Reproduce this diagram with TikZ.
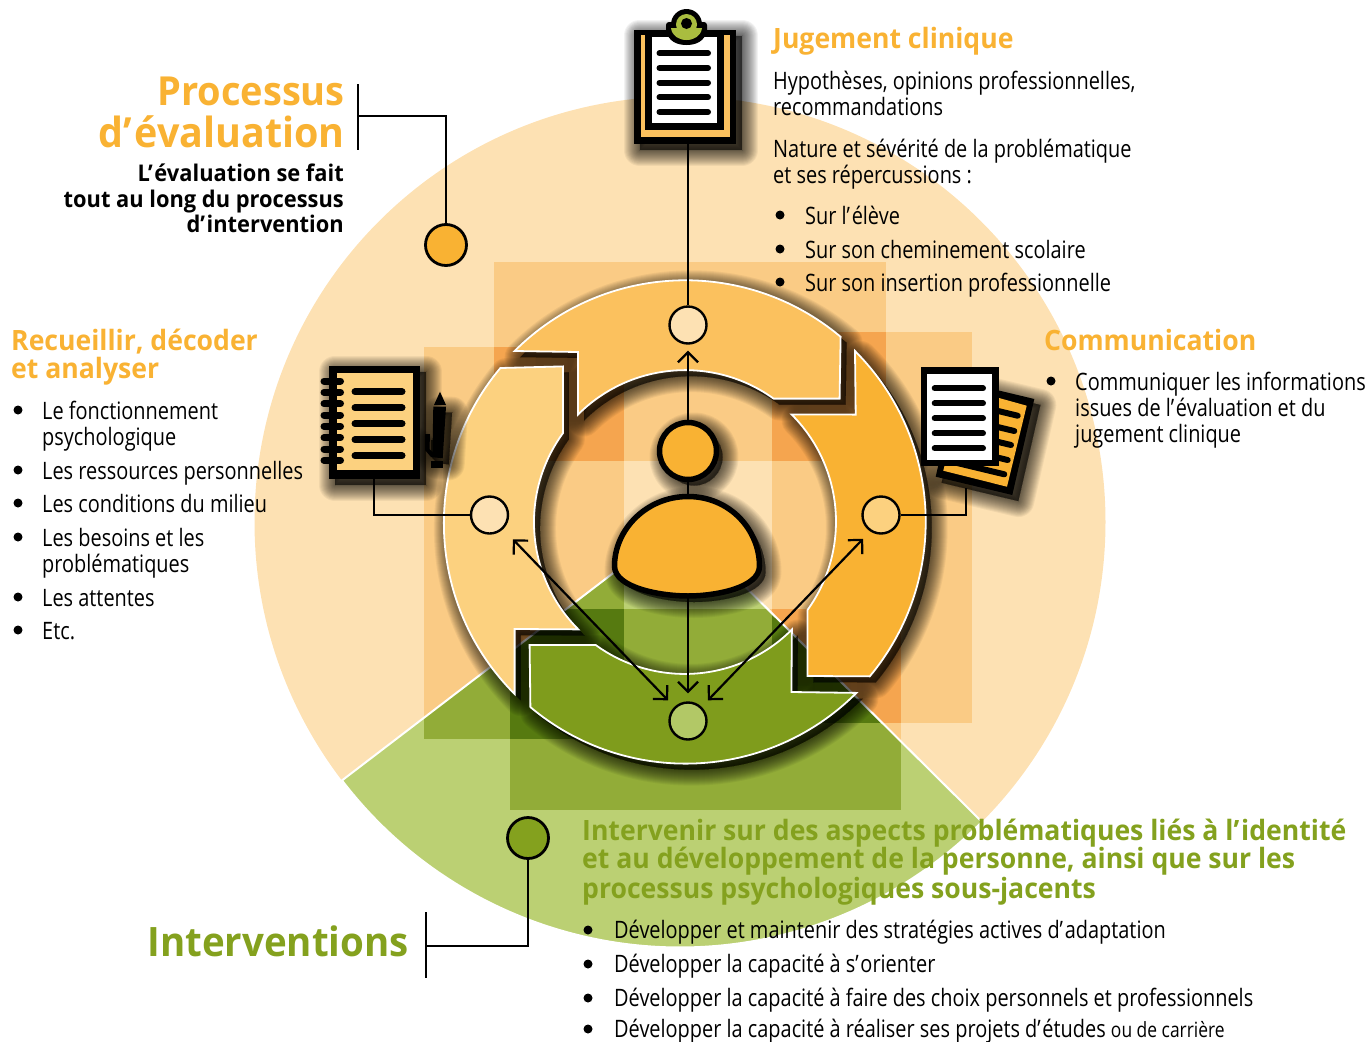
\documentclass[tikz,border=0pt]{standalone}
\usepackage{fontspec}
\usetikzlibrary{arrows.meta}
\newfontfamily\ftexte{Open Sans}[FakeStretch=0.83]
\newfontfamily\fgras{Open Sans}[FakeStretch=0.95]

\definecolor{fond}{HTML}{FDE1B3}
\definecolor{vertfond}{HTML}{BBD073}
\definecolor{carreclair}{HTML}{FACB85}
\definecolor{carrefonce}{HTML}{F5A54F}
\definecolor{carrevert}{HTML}{92AC38}
\definecolor{carrevertfonce}{HTML}{567A10}
\definecolor{segclair}{HTML}{FCD17F}
\definecolor{segmoyen}{HTML}{FBC15E}
\definecolor{orange}{HTML}{F9B233}
\definecolor{vert}{HTML}{7F9C1C}
\definecolor{titrevert}{HTML}{84A11E}
\definecolor{pince}{HTML}{A9BD3F}

\tikzset{
  barbe/.tip={Straight Barb[length=10pt,width=20pt,line width=2.2pt]},
  trait/.style={line width=2.4pt,black},
  fleche/.style={line width=2.2pt,black,barbe-barbe},
  petit/.style={circle,draw=black,line width=2.4pt,minimum size=37pt,inner sep=0pt},
  rond/.style={circle,draw=black,line width=2.8pt,minimum size=41pt,inner sep=0pt},
  ligne/.style={line width=6pt,line cap=round,black},
  puce/.style={circle,fill=black,minimum size=9pt,inner sep=0pt},
  texte/.style={anchor=base west,inner sep=0pt,yshift=-1pt,font=\ftexte\fontsize{24}{26}\selectfont},
  titre/.style={anchor=base west,inner sep=0pt,yshift=-1pt,font=\fgras\bfseries\fontsize{28}{30}\selectfont,text=orange},
  grand/.style={anchor=base east,inner sep=0pt,font=\fgras\bfseries\fontsize{40.5}{42}\selectfont},
  gras/.style={anchor=base east,inner sep=0pt,yshift=-1pt,font=\fgras\bfseries\fontsize{23}{25}\selectfont},
}

\newcommand{\apos}{’\kern.07em}

% ombre floue : traits empiles
\newcommand{\ombrer}[1]{\foreach \w in {32,30,...,0} {\draw[black,fill=black,line join=round,line width=\w pt,opacity=.05,xshift=6pt,yshift=-6pt] #1;}}

% les quatre segments de l'anneau
\newcommand{\segtop}{(514.6,351) arc[start angle=-135,end angle=-50,radius=241.5] -- (839.6,398.6) -- (773.6,398.6) arc[start angle=-54.3,end angle=-135,radius=151.5] -- (578,352) -- cycle}
\newcommand{\segright}{(855,351) arc[start angle=-45,end angle=39.8,radius=241.5] -- (807.5,676) -- (807.5,610) arc[start angle=35.7,end angle=-45,radius=151.5] -- (855.7,414.6) -- cycle}
\newcommand{\segbottom}{(856.4,692.9) arc[start angle=45,end angle=130,radius=241.5] -- (529.6,645) -- (595.7,645) arc[start angle=126,end angle=45,radius=151.5] -- (791.4,692) -- cycle}
\newcommand{\segleft}{(514.6,694) arc[start angle=-225,end angle=-140,radius=241.5] -- (562.9,366.4) -- (562.9,433.2) arc[start angle=-144,end angle=-225,radius=151.5] -- (514.6,629) -- cycle}
\newcommand{\secteur}{(680,522) -- ++(142.6:425.5) arc[start angle=142.6,end angle=44.8,radius=425.5] -- cycle}
\newcommand{\buste}{(688,496.5) .. controls (730,496.5) and (759.5,530) .. (759.5,566) .. controls (759.5,588) and (715,596) .. (688,596) .. controls (661,596) and (614.5,588) .. (614.5,566) .. controls (614.5,530) and (646,496.5) .. (688,496.5) -- cycle}

\begin{document}
\begin{tikzpicture}[x=1pt,y=-1pt]
\useasboundingbox (0,0) rectangle (1369,1042);

% fond
\fill[fond] (680,522) circle (425.5);
\fill[vertfond] \secteur;

% carres
\fill[carreclair] (494,262) rectangle (886,461);
\fill[carreclair] (424,347) rectangle (624,739);
\fill[carreclair] (772,332) rectangle (972,723);
\fill[carreclair] (510,609) rectangle (901,810);
\fill[carrefonce] (494,347) rectangle (624,461);
\fill[carrefonce] (772,332) rectangle (886,461);
\fill[carrefonce] (510,609) rectangle (624,739);
\fill[carrefonce] (772,609) rectangle (901,723);
\begin{scope}
\clip \secteur;
\fill[carrevert] (424,347) rectangle (624,739);
\fill[carrevert] (772,332) rectangle (972,723);
\fill[carrevert] (510,609) rectangle (901,810);
\fill[carrevertfonce] (510,609) rectangle (624,739);
\fill[carrevertfonce] (772,609) rectangle (901,723);
\end{scope}
\draw[white,line width=2pt] \secteur;

% ombres puis segments
\ombrer{\segleft}
\ombrer{\segtop}
\ombrer{\segright}
\ombrer{\segbottom}
\draw[white,line width=1.8pt,fill=segclair] \segleft;
\draw[white,line width=1.8pt,fill=segmoyen] \segtop;
\draw[white,line width=1.8pt,fill=orange] \segright;
\draw[white,line width=1.8pt,fill=vert] \segbottom;

% noeuds
\node[petit,fill=fond] (haut) at (688,325) {};
\node[petit,fill=fond] (gauche) at (489.5,515) {};
\node[petit,fill=segclair] (droite) at (881,515) {};
\node[petit,fill=vertfond!85!vert] (bas) at (688,721) {};
\node[rond,fill=orange] (pointeval) at (446,245) {};
\node[rond,fill=titrevert] (pointinter) at (528,838) {};

\coordinate (corpshaut) at (688,494);
\coordinate (corpsbas) at (688,597);
\coordinate (tablette) at (688,144);
\coordinate (carnet) at (374,478);
\coordinate (feuilles) at (966,488);
\coordinate (barreA) at (358,84);
\coordinate (barreB) at (358,150);
\coordinate (coudeA) at (358,116);
\coordinate (barreC) at (426,912);
\coordinate (barreD) at (426,978);
\coordinate (coudeB) at (426,946);

% tete et corps
\ombrer{(688,451) circle (28.5)}
\ombrer{\buste}
\node[circle,draw=black,line width=5.5pt,fill=orange,minimum size=57pt,inner sep=0pt] (tete) at (688,451) {};
\draw[trait] (tete) -- (corpshaut);
\draw[line width=5.5pt,black,fill=orange] \buste;

% connecteurs
\draw[trait,-barbe,shorten >=6pt] (tete) -- (haut);
\draw[trait,-barbe,shorten >=8pt] (corpsbas) -- (bas);
\draw[fleche,shorten <=14pt,shorten >=9pt] (gauche) -- (bas);
\draw[fleche,shorten <=33pt,shorten >=9pt] ([xshift=5pt]droite.center) -- (bas);
\draw[trait] (tablette) -- (haut);
\draw[trait] (carnet) |- (gauche);
\draw[trait] (feuilles) |- (droite);
\draw[trait] (barreA) -- (barreB);
\draw[trait] (coudeA) -| (pointeval);
\draw[trait] (barreC) -- (barreD);
\draw[trait] (coudeB) -| (pointinter);

% tablette a pince
\ombrer{(633.5,29.5) rectangle (736,144)}
\fill[black] (633.5,29.5) rectangle (736,144);
\fill[segmoyen] (640.7,35) rectangle (730,136.7);
\fill[black] (645,32) rectangle (724,130);
\fill[white] (651.7,37) rectangle (717.3,123.3);
\foreach \ypos in {53.3,68,82.7,97.3,112} {
  \draw[ligne] (659.5,\ypos) -- (708,\ypos);
}
\fill[black,rounded corners=3pt] (666,22) rectangle (707,34);
\fill[black] (666,30) .. controls (668,42) and (678,45) .. (686.5,45) .. controls (695,45) and (705,42) .. (707,30) -- cycle;
\fill[black] (686.5,24.5) circle (15.5);
\fill[pince] (686.5,24.5) circle (10.5);
\fill[pince] (671,28) -- (702,28) .. controls (701,36) and (694,40) .. (686.5,40) .. controls (679,40) and (672,36) .. (671,28) -- cycle;
\fill[black] (686.5,23.5) circle (5.5);

% carnet
\ombrer{(329.3,365.7) rectangle (420,479)}
\fill[black] (329.3,365.7) rectangle (420,479);
\fill[segclair] (337,373.3) rectangle (412.7,470.3);
\foreach \ypos in {391.7,407.7,423.7,439.7,455.7} {
  \draw[ligne,line width=7pt] (355,\ypos) -- (402,\ypos);
}
\foreach \ypos in {381,392.3,403.7,415,426.3,437.7,449,460.3} {
  \draw[ligne,line width=7pt] (324,\ypos) -- (340.5,\ypos);
}
\ombrer{(433.3,406.7) -- (446,406.7) -- (442.7,458.3) -- (431,457) -- (425,450) -- (425,434) -- (430,434) -- cycle}
\fill[black] (433.3,406.7) -- (446,406.7) -- (442.7,458.3) -- (431,457) -- (425,450) -- (425,434) -- (430,434) -- (429.5,449) -- (432.5,452) -- cycle;
\fill[black] (434,405) -- (446,405) -- (440,391.7) -- cycle;
\fill[black] (430.7,461) rectangle (442.7,467.7);

% feuilles
\ombrer{(957.7,380.7) -- (1034.3,399) -- (1012.3,495) -- (935.7,476.7) -- cycle}
\fill[black] (957.7,380.7) -- (1034.3,399) -- (1012.3,495) -- (935.7,476.7) -- cycle;
\fill[orange] (963,388) -- (1026.7,405.7) -- (1007,486.7) -- (943.3,470.7) -- cycle;
\foreach \xpos/\ypos in {1017.7/415.7,1014.3/431,1011/445,1007.7/460,1004.3/474.3} {
  \draw[ligne] (\xpos,\ypos) -- ++(-50,-12);
}
\fill[black] (920.7,367.3) rectangle (999,466);
\fill[white] (926.7,374) rectangle (992.3,460);
\foreach \ypos in {388.3,403.3,418.3,433.3,448.3} {
  \draw[ligne] (934.7,\ypos) -- (983,\ypos);
}

% textes
\node[grand,text=orange,font=\fgras\bfseries\fontsize{40}{42}\selectfont] (processus) at (345,105) {Processus};
\node[grand,text=orange,font=\fgras\bfseries\fontsize{41.5}{42}\selectfont] (devaluation) at (345,147) {d\apos évaluation};
\node[gras] (lev) at (344,180) {L\apos évaluation se fait};
\node[gras] (tout) at (344,206) {tout au long du processus};
\node[gras] (dint) at (344,231) {d\apos intervention};
\node[grand,text=titrevert] (interventions) at (409,956) {Interventions};

\node[titre] (jugement) at (773,47) {Jugement clinique};
\node[titre] (communication) at (1044,349) {Communication};
\node[titre] (recueillir) at (11,349) {Recueillir, décoder};
\node[titre] (analyser) at (11,377) {et analyser};
\node[titre,text=titrevert] (intA) at (582,839) {Intervenir sur des aspects problématiques liés à l\apos identité};
\node[titre,text=titrevert] (intB) at (582,867) {et au développement de la personne, ainsi que sur les};
\node[titre,text=titrevert] (intC) at (582,897) {processus psychologiques sous-jacents};

\foreach \ypos/\txt in {88/{Hypothèses, opinions professionnelles,},114/{recommandations},156/{Nature et sévérité de la problématique},182/{et ses répercussions :}} {
  \node[texte] (jug\ypos) at (773,\ypos) {\txt};
}
\foreach \ypos/\txt in {223/{Sur l\apos élève},257/{Sur son cheminement scolaire},290/{Sur son insertion professionnelle}} {
  \node[puce] (jugbul\ypos) at (780,\ypos-8) {};
  \node[texte] (jugpuce\ypos) at (805,\ypos) {\txt};
}
\node[puce] (combul) at (1051,381) {};
\node[texte] (comA) at (1075,389) {Communiquer les informations};
\node[texte] (comB) at (1075,415) {issues de l\apos évaluation et du};
\node[texte] (comC) at (1075,441) {jugement clinique};

\foreach \ypos/\txt in {418/{Le fonctionnement},478/{Les ressources personnelles},511/{Les conditions du milieu},545/{Les besoins et les},605/{Les attentes},638/{Etc.}} {
  \node[puce] (recbul\ypos) at (18,\ypos-8) {};
  \node[texte] (rec\ypos) at (42,\ypos) {\txt};
}
\node[texte] (psycho) at (42,444) {psychologique};
\node[texte] (problem) at (42,571) {problématiques};

\foreach \ypos/\txt in {937/{Développer et maintenir des stratégies actives d\apos adaptation},971/{Développer la capacité à s\apos orienter},1005/{Développer la capacité à faire des choix personnels et professionnels},1036/{Développer la capacité à réaliser ses projets d\apos études {\fontsize{21}{24}\selectfont ou de carrière}}} {
  \node[puce] (intbul\ypos) at (588,\ypos-7) {};
  \node[texte] (int\ypos) at (614,\ypos) {\txt};
}

\end{tikzpicture}
\end{document}
